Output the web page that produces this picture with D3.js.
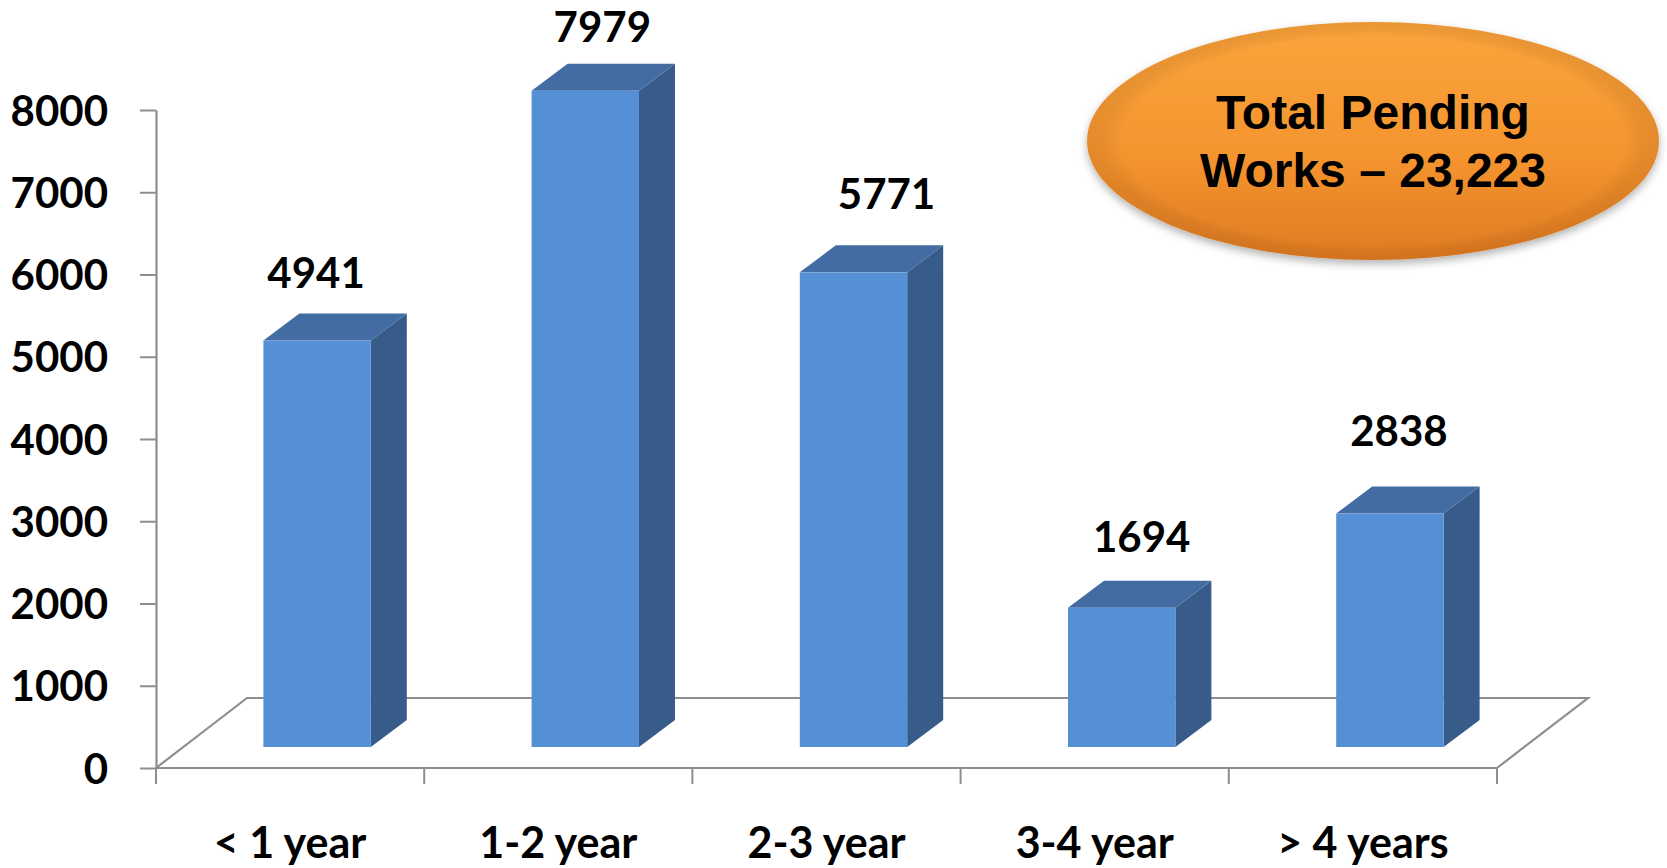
<!DOCTYPE html>
<html>
<head>
<meta charset="utf-8">
<script src="https://cdn.jsdelivr.net/npm/d3@7"></script>
<style>
  html, body { margin: 0; padding: 0; background: #ffffff; }
  svg { display: block; }
</style>
</head>
<body>
<svg id="chart" width="1667" height="868"></svg>
<script>
// ---- data ----
const categories = ["< 1 year", "1-2 year", "2-3 year", "3-4 year", "> 4 years"];
const values = [4941, 7979, 5771, 1694, 2838];
const yTicks = [0, 1000, 2000, 3000, 4000, 5000, 6000, 7000, 8000];
const calloutLines = ["Total Pending", "Works \u2013 23,223"];

// ---- layout / style ----
const labelNudgeX = [0, 18, 34, 21, 10];
const labelNudgeY = [0, 4, -10, -3, -15];

const svg = d3.select("#chart");
const x = d3.scaleBand().domain(categories).range([156, 1497]).paddingInner(0).paddingOuter(0);
const y = d3.scaleLinear().domain([0, 8000]).range([768, 110]);

const floorDX = 91, floorDY = -70;      // depth of the floor
const frontDX = 27, frontDY = -21;      // bar front plane inside floor
const barDX = 36, barDY = -27;          // bar depth
const barW = 107.4;

const axisColor = "#8e8e8e";
const labelFont = "Lato, 'Open Sans', sans-serif";

const defs = svg.append("defs");
const og = defs.append("linearGradient").attr("id", "orangeGrad")
  .attr("x1", 0).attr("y1", 0).attr("x2", 0).attr("y2", 1);
og.append("stop").attr("offset", "0%").attr("stop-color", "#fba43c");
og.append("stop").attr("offset", "55%").attr("stop-color", "#f5952f");
og.append("stop").attr("offset", "100%").attr("stop-color", "#df7a22");
const rg = defs.append("radialGradient").attr("id", "rimGrad")
  .attr("cx", "50%").attr("cy", "50%").attr("r", "50%");
rg.append("stop").attr("offset", "88%").attr("stop-color", "#000").attr("stop-opacity", 0);
rg.append("stop").attr("offset", "100%").attr("stop-color", "#8a4a10").attr("stop-opacity", 0.15);
const flt = defs.append("filter").attr("id", "shadow")
  .attr("x", "-10%").attr("y", "-10%").attr("width", "120%").attr("height", "130%");
flt.append("feDropShadow").attr("dx", 0).attr("dy", 4).attr("stdDeviation", 4)
  .attr("flood-color", "#000").attr("flood-opacity", 0.3);

// ---- floor ----
const x0 = x.range()[0], x1 = x.range()[1], yb = y(0);
const floor = svg.append("g").attr("fill", "none").attr("stroke", axisColor).attr("stroke-width", 2.2);
floor.append("path").attr("d", d3.line()([
  [x0, yb], [x0 + floorDX, yb + floorDY], [x1 + floorDX, yb + floorDY], [x1, yb]
]));

// ---- y axis ----
const yAxis = d3.axisLeft(y).tickValues(yTicks).tickFormat(d3.format("d"))
  .tickSizeInner(16).tickSizeOuter(0).tickPadding(32);
const gy = svg.append("g").attr("transform", `translate(${x0},0)`).call(yAxis);
gy.select(".domain").attr("stroke", axisColor).attr("stroke-width", 2.2);
gy.selectAll(".tick line").attr("stroke", axisColor).attr("stroke-width", 2);
gy.selectAll(".tick text")
  .attr("font-family", labelFont).attr("font-weight", 700).attr("font-size", 42)
  .attr("fill", "#000").attr("dy", "0.36em");

// ---- x axis front edge + ticks ----
svg.append("line").attr("x1", x0).attr("x2", x1).attr("y1", yb).attr("y2", yb)
  .attr("stroke", axisColor).attr("stroke-width", 2.2);
const boundaries = categories.map(c => x(c)).concat([x1]);
svg.append("g").selectAll("line").data(boundaries).join("line")
  .attr("x1", d => d).attr("x2", d => d).attr("y1", yb).attr("y2", yb + 16)
  .attr("stroke", axisColor).attr("stroke-width", 2);
svg.append("g").selectAll("text").data(categories).join("text")
  .attr("x", d => x(d) + x.bandwidth() / 2).attr("y", 858)
  .attr("text-anchor", "middle")
  .attr("font-family", labelFont).attr("font-weight", 700).attr("font-size", 43)
  .attr("fill", "#000").text(d => d);

// ---- bars ----
const bars = svg.append("g").selectAll("g")
  .data(categories.map((c, i) => ({ c, v: values[i], i }))).join("g");
const fx = d => x(d.c) + (x.bandwidth() - barW) / 2 + frontDX;
const fBottom = yb + frontDY;
const fTop = d => y(d.v) + frontDY;

bars.append("path").attr("fill", "#375c8a").attr("d", d => d3.line()([
  [fx(d) + barW, fTop(d)], [fx(d) + barW + barDX, fTop(d) + barDY],
  [fx(d) + barW + barDX, fBottom + barDY], [fx(d) + barW, fBottom]
]) + "Z");
bars.append("path").attr("fill", "#426ca2").attr("d", d => d3.line()([
  [fx(d), fTop(d)], [fx(d) + barDX, fTop(d) + barDY],
  [fx(d) + barW + barDX, fTop(d) + barDY], [fx(d) + barW, fTop(d)]
]) + "Z");
bars.append("rect").attr("fill", "#558fd6")
  .attr("x", d => fx(d)).attr("y", d => fTop(d))
  .attr("width", barW).attr("height", d => fBottom - fTop(d));
bars.append("text")
  .attr("x", d => fx(d) + barW / 2 - 1 + labelNudgeX[d.i])
  .attr("y", d => fTop(d) - 53 + labelNudgeY[d.i])
  .attr("text-anchor", "middle")
  .attr("font-family", labelFont).attr("font-weight", 700).attr("font-size", 42)
  .attr("fill", "#000").text(d => d.v);

// ---- callout ellipse ----
const cx = 1373, cy = 141, rx = 286, ry = 119;
svg.append("ellipse").attr("cx", cx).attr("cy", cy).attr("rx", rx).attr("ry", ry)
  .attr("fill", "url(#orangeGrad)").attr("filter", "url(#shadow)");
svg.append("ellipse").attr("cx", cx).attr("cy", cy).attr("rx", rx).attr("ry", ry)
  .attr("fill", "url(#rimGrad)");
svg.append("g").selectAll("text").data(calloutLines).join("text")
  .attr("x", 1373).attr("y", (d, i) => 129 + i * 58)
  .attr("text-anchor", "middle")
  .attr("font-family", "'Liberation Sans', Arial, sans-serif").attr("font-weight", 700)
  .attr("font-size", 48).attr("fill", "#000").text(d => d);
</script>
</body>
</html>
